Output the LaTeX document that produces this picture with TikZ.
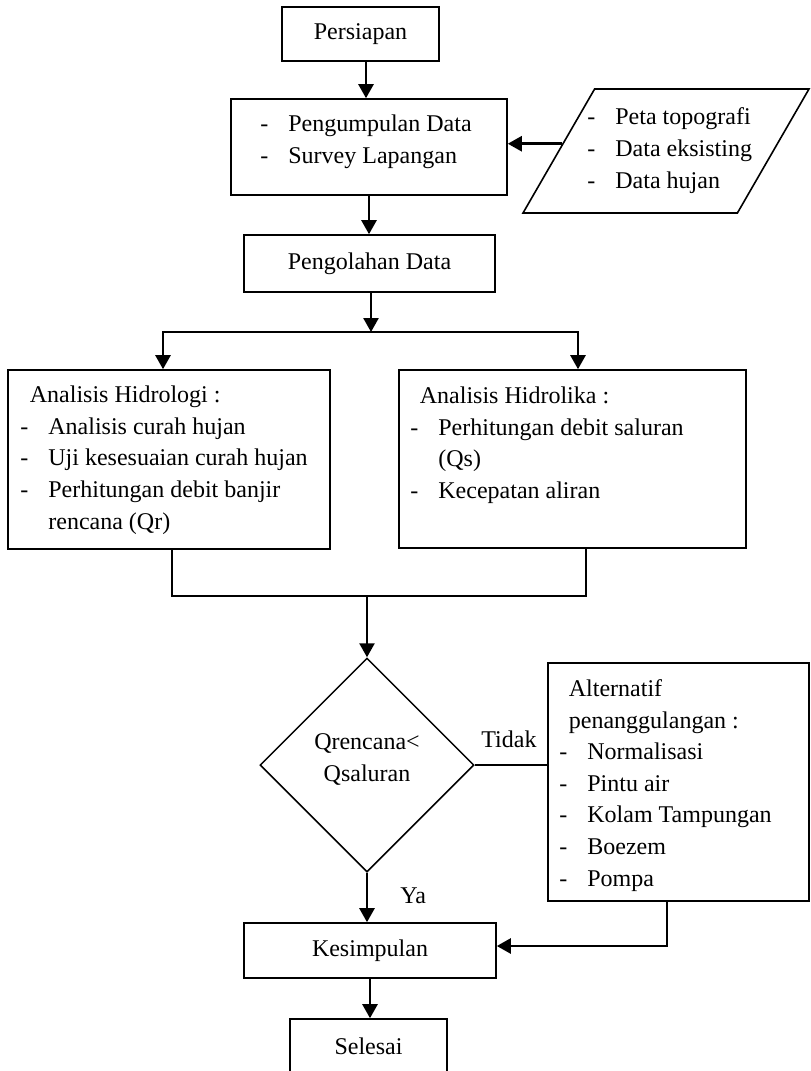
\documentclass[tikz,border=0pt]{standalone}
\usepackage{fontspec}
\setmainfont{Liberation Serif}
\usetikzlibrary{arrows.meta,shapes.geometric}
\newcommand{\dashitem}[1]{\makebox[14pt][l]{-}#1}
\newcommand{\headitem}[1]{\hspace*{4.75pt}#1}
\newcommand{\contitem}[1]{\hspace*{14pt}#1}
\begin{document}
	\begin{tikzpicture}[x=0.5pt, y=-0.5pt,
			font=\fontsize{12pt}{15.8pt}\selectfont,
			box/.style={draw=black, line width=0.8pt, inner sep=0pt},
			txt/.style={align=left, anchor=base west, inner sep=0pt},
			flow/.style={-{Triangle[length=7pt,width=7.5pt]}, line width=1.25pt},
			link/.style={line width=0.75pt}]
		\useasboundingbox (0,0) rectangle (810,1071);
		\node[box, minimum width=78.5pt, minimum height=27pt] (start) at (360.5,34) {Persiapan};
		\node[box, minimum width=138pt, minimum height=48pt] (collect) at (369,147) {};
		\node[txt] (collecttxt) at (260,163.5) {\dashitem{Pengumpulan Data}\\\dashitem{Survey Lapangan}};
		\node[box, trapezium, trapezium left angle=60, trapezium right angle=120, inner xsep=35.7pt, inner ysep=31pt] (input) at (666,151) {};
		\node[txt] (inputtxt) at (587,188) {\dashitem{Peta topografi}\\\dashitem{Data eksisting}\\\dashitem{Data hujan}};
		\node[box, minimum width=125.5pt, minimum height=28.5pt] (process) at (369.5,263.5) {Pengolahan Data};
		\node[box, minimum width=161pt, minimum height=89.5pt] (hydro) at (169,459.5) {};
		\node[txt] (hydrotxt) at (20,529) {\headitem{Analisis Hidrologi :}\\\dashitem{Analisis curah hujan}\\\dashitem{Uji kesesuaian curah hujan}\\\dashitem{Perhitungan debit banjir}\\\contitem{rencana (Qr)}};
		\node[box, minimum width=173.5pt, minimum height=89pt] (hydra) at (572.5,459) {};
		\node[txt] (hydratxt) at (410,498.5) {\headitem{Analisis Hidrolika :}\\\dashitem{Perhitungan debit saluran}\\\contitem{(Qs)}\\\dashitem{Kecepatan aliran}};
		\node[box, diamond, line width=0.75pt, minimum width=107pt, minimum height=107pt] (dec) at (367,765) {};
		\node[align=center, anchor=base, inner sep=0pt] (dectxt) at (367,781) {Qrencana<\\Qsaluran};
		\node[box, minimum width=130.5pt, minimum height=119pt] (alt) at (678.5,782) {};
		\node[txt] (alttxt) at (559,886) {\headitem{Alternatif}\\\headitem{penanggulangan :}\\\dashitem{Normalisasi}\\\dashitem{Pintu air}\\\dashitem{Kolam Tampungan}\\\dashitem{Boezem}\\\dashitem{Pompa}};
		\node[anchor=base west, inner sep=0pt] (no) at (481,747) {Tidak};
		\node[anchor=base west, inner sep=0pt] (yes) at (400,903) {Ya};
		\node[box, minimum width=126pt, minimum height=27.5pt] (concl) at (370,950.5) {Kesimpulan};
		\node[box, minimum width=78.5pt, minimum height=27.5pt] (finish) at (368.5,1046.5) {Selesai};
		\coordinate (split) at (371,332);
		\coordinate (splitL) at (163,332);
		\coordinate (splitR) at (578,332);
		\coordinate (mergeL) at (172,596);
		\coordinate (mergeR) at (586,596);
		\coordinate (altdown) at (667,946);
		\draw[flow] ([xshift=2.75pt]start.south) -- ([xshift=2.75pt]start.south |- collect.north);
		\draw[flow] (input.176) -- (input.176 -| collect.east);
		\draw[flow] (collect.south) -- (collect.south |- process.north);
		\draw[flow] (process.south -| split) -- (split);
		\draw[flow] (splitR) -- (splitL) -- (splitL |- hydro.north);
		\draw[flow] (splitL) -- (splitR) -- (splitR |- hydra.north);
		\draw[link] (mergeL |- hydro.south) -- (mergeL) -- (mergeR) -- (mergeR |- hydra.south);
		\draw[flow] (dec.north |- mergeL) -- (dec.north);
		\draw[link] (dec.east) -- (dec.east -| alt.west);
		\draw[flow] (dec.south) -- (dec.south |- concl.north);
		\draw[flow] (altdown |- alt.south) -- (altdown) -- (altdown -| concl.east);
		\draw[flow] (concl.south) -- (concl.south |- finish.north);
	\end{tikzpicture}
\end{document}
